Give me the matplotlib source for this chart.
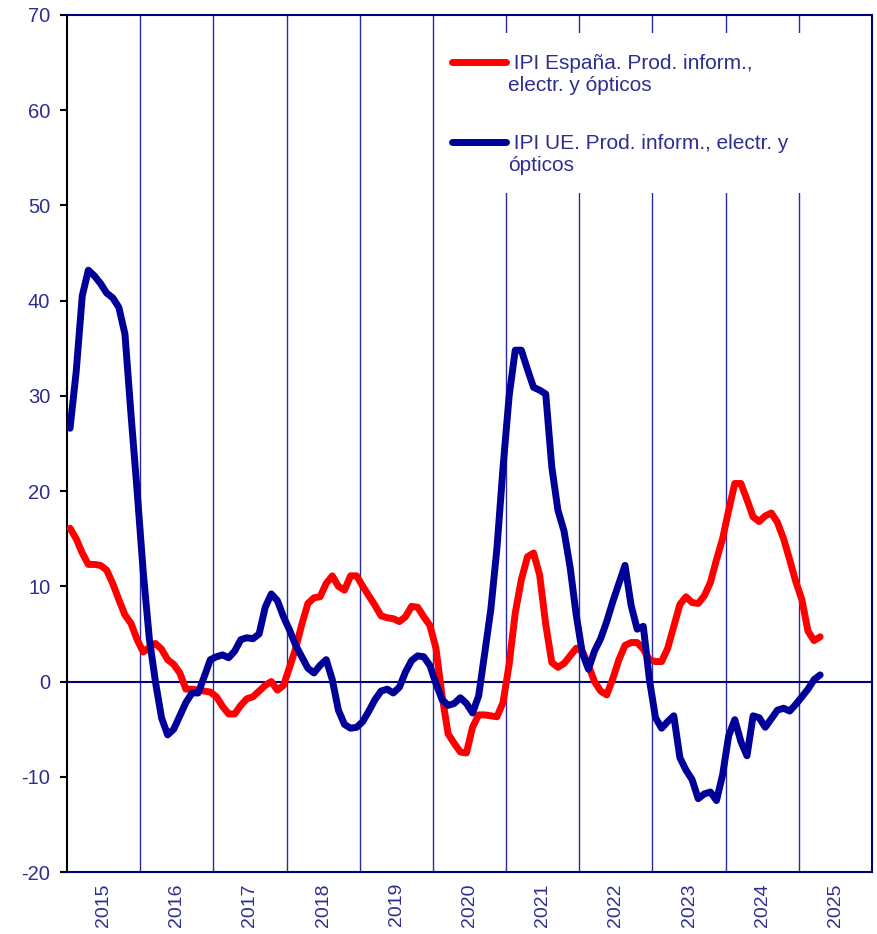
import numpy as np
import matplotlib
matplotlib.use("Agg")
import matplotlib.pyplot as plt
from matplotlib.lines import Line2D
from matplotlib.patches import Rectangle

plt.rcParams["font.family"] = ["Liberation Sans", "DejaVu Sans"]
plt.rcParams["axes.unicode_minus"] = False

# monthly values, Jan 2015 - Apr 2025
ipi_espana = [
    16.1, 15.0, 13.5, 12.3, 12.3, 12.2, 11.7, 10.3, 8.6, 7.0, 6.1, 4.4,      # 2015
    3.1, 3.6, 4.0, 3.4, 2.3, 1.8, 0.9, -0.8, -0.8, -0.9, -1.0, -1.1,         # 2016
    -1.6, -2.6, -3.4, -3.4, -2.5, -1.8, -1.6, -1.0, -0.4, 0.0, -0.9, -0.4,   # 2017
    1.5, 3.5, 6.0, 8.2, 8.8, 8.9, 10.3, 11.1, 10.0, 9.6, 11.1, 11.1,         # 2018
    10.0, 9.0, 8.0, 6.9, 6.7, 6.6, 6.3, 6.8, 7.9, 7.8, 6.8, 5.9,             # 2019
    3.5, -1.5, -5.5, -6.5, -7.4, -7.5, -4.8, -3.5, -3.5, -3.6, -3.7, -2.2,   # 2020
    1.8, 7.2, 10.7, 13.1, 13.5, 11.2, 6.0, 2.0, 1.5, 1.9, 2.7, 3.5,          # 2021
    3.2, 1.7, 0.0, -1.0, -1.4, 0.3, 2.3, 3.8, 4.1, 4.1, 3.4, 2.3,            # 2022
    2.1, 2.1, 3.5, 5.8, 8.1, 8.9, 8.3, 8.2, 9.0, 10.4, 12.8, 15.0,           # 2023
    18.0, 20.8, 20.8, 19.1, 17.3, 16.8, 17.4, 17.7, 16.7, 15.0, 12.8, 10.5,  # 2024
    8.6, 5.3, 4.3, 4.7,                                                      # 2025
]
ipi_ue = [
    26.6, 32.5, 40.5, 43.2, 42.6, 41.8, 40.8, 40.3, 39.3, 36.5, 28.0, 20.0,  # 2015
    11.5, 4.5, 0.0, -3.8, -5.6, -5.0, -3.6, -2.2, -1.2, -1.2, 0.5, 2.3,      # 2016
    2.6, 2.8, 2.5, 3.2, 4.4, 4.6, 4.5, 5.0, 7.8, 9.2, 8.5, 6.8,              # 2017
    5.4, 3.8, 2.6, 1.4, 0.9, 1.7, 2.3, 0.2, -3.0, -4.5, -4.9, -4.8,          # 2018
    -4.2, -3.1, -1.9, -1.0, -0.8, -1.2, -0.6, 1.0, 2.2, 2.7, 2.6, 1.7,       # 2019
    -0.2, -1.9, -2.5, -2.3, -1.7, -2.3, -3.3, -1.5, 3.0, 7.6, 14.0, 22.5,    # 2020
    30.0, 34.8, 34.8, 32.8, 30.9, 30.6, 30.2, 22.5, 18.0, 15.8, 12.0, 7.0,   # 2021
    3.0, 1.3, 3.2, 4.5, 6.3, 8.4, 10.3, 12.2, 8.0, 5.5, 5.8, 0.2,            # 2022
    -3.8, -4.9, -4.2, -3.6, -8.0, -9.3, -10.3, -12.3, -11.8, -11.6, -12.5, -9.8,  # 2023
    -5.7, -4.0, -6.3, -7.8, -3.6, -3.8, -4.8, -3.9, -3.0, -2.8, -3.1, -2.4,  # 2024
    -1.6, -0.8, 0.2, 0.7,                                                    # 2025
]
years = list(range(2015, 2026))
label_es = " IPI España. Prod. inform.,\nelectr. y ópticos"
label_ue = " IPI UE. Prod. inform., electr. y\nópticos"

red = "#ff0000"
navy = "#000099"
txt = "#2e2e8f"

n = len(ipi_espana)
x = 2015 + (np.arange(n) + 0.5) / 12

fig = plt.figure(figsize=(8.77, 9.34), dpi=100)
ax = fig.add_axes([67 / 877, 62 / 934, 805 / 877, 857 / 934])

ax.plot(x, ipi_espana, color=red, lw=5, solid_capstyle="round", solid_joinstyle="round", zorder=3)
ax.plot(x, ipi_ue, color=navy, lw=5, solid_capstyle="round", solid_joinstyle="round", zorder=3)
ax.axhline(0, color="#000080", lw=1.5, zorder=2)

ax.set_xlim(2015, 2026)
ax.set_ylim(-20, 70)
ax.set_yticks(range(-20, 71, 10))

# year boundaries as vertical lines, labels in the middle of each year
ax.set_xticks([y + 0.5 for y in years])
ax.set_xticklabels([str(y) for y in years], rotation=90)
ax.set_xticks(years[1:], minor=True)
ax.grid(True, which="minor", axis="x", color="#2a2aa0", lw=1.0, zorder=1)
ax.tick_params(axis="x", which="both", length=0, pad=8, labelsize=14, labelcolor=txt)
ax.tick_params(axis="y", length=5, width=1.5, color="black", pad=7, labelsize=14.5, labelcolor=txt)

for side in ["top", "right", "bottom"]:
    ax.spines[side].set_color("#000080")
    ax.spines[side].set_linewidth(1.5)
ax.spines["left"].set_color("black")
ax.spines["left"].set_linewidth(1.5)

# legend box (handle on the first text line)
ax.add_patch(Rectangle((0.461, 0.792), 0.534, 0.187, transform=ax.transAxes,
                       facecolor="white", edgecolor="none", zorder=4))
ax.add_line(Line2D([0.478, 0.545], [0.945, 0.945], transform=ax.transAxes,
                   color=red, lw=5, solid_capstyle="round", zorder=5))
ax.add_line(Line2D([0.478, 0.545], [0.852, 0.852], transform=ax.transAxes,
                   color=navy, lw=5, solid_capstyle="round", zorder=5))
ax.text(0.548, 0.931, label_es, transform=ax.transAxes, va="center", ha="left",
        fontsize=15, color=txt, zorder=6)
ax.text(0.548, 0.837, label_ue, transform=ax.transAxes, va="center", ha="left",
        fontsize=15, color=txt, zorder=6)

fig.savefig("out.png", dpi=100)
